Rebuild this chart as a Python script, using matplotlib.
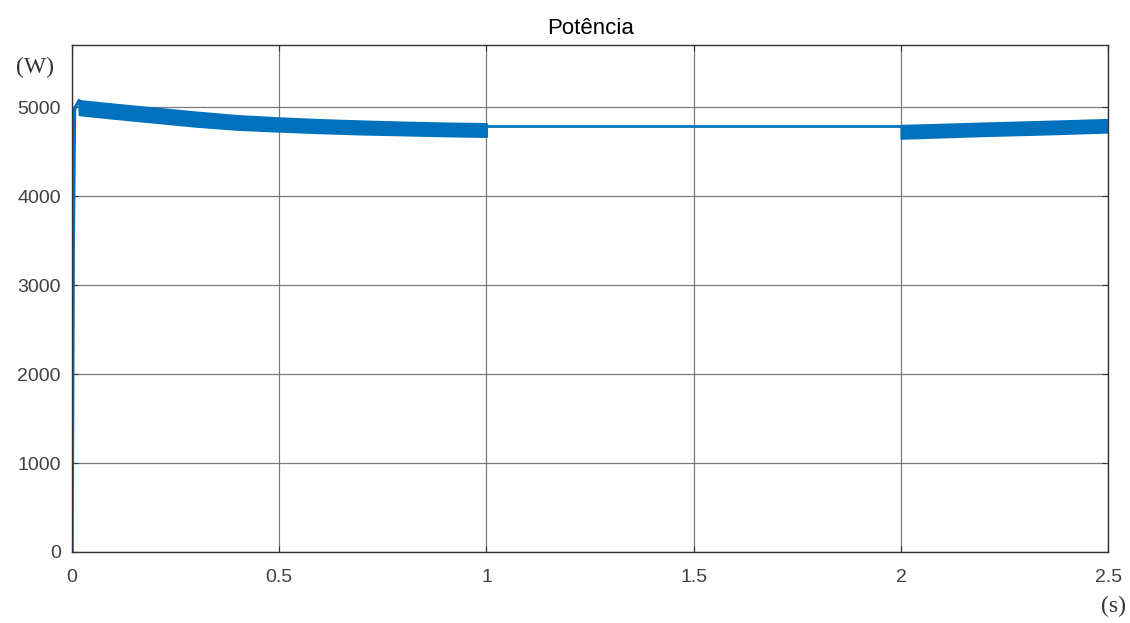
import numpy as np
import matplotlib.pyplot as plt

# --- Dados ---
# partida: subida rápida até a potência máxima
t_partida = [0.0, 0.003, 0.006, 0.017]
p_partida = [0, 3390, 4980, 5070]

# faixa com ondulação (0 a 1 s): envoltória superior e inferior
t_faixa1 = [0.017, 0.1, 0.2, 0.3, 0.4, 0.5, 0.6, 0.7, 0.8, 0.9, 1.0]
p_sup1 = [5075, 5035, 4990, 4945, 4905, 4880, 4860, 4845, 4832, 4822, 4815]
p_inf1 = [4915, 4875, 4830, 4785, 4750, 4730, 4712, 4698, 4688, 4678, 4670]

# trecho constante (1 a 2 s)
t_plano = [1.0, 2.0]
p_plano = [4785, 4785]

# faixa com ondulação (2 a 2.5 s)
t_faixa2 = [2.0, 2.1, 2.2, 2.3, 2.4, 2.5]
p_sup2 = [4795, 4808, 4822, 4835, 4848, 4862]
p_inf2 = [4650, 4665, 4680, 4692, 4705, 4720]

x_ticks = [0, 0.5, 1, 1.5, 2, 2.5]
x_labels = ['0', '0.5', '1', '1.5', '2', '2.5']
y_ticks = [0, 1000, 2000, 3000, 4000, 5000]

AZUL = '#0072BD'
CINZA = '#404040'

fig = plt.figure(figsize=(11.3, 6.23), dpi=100)
ax = fig.add_axes([0.0637, 0.114, 0.917, 0.814])

ax.plot(t_partida, p_partida, color=AZUL, lw=2.5)
ax.fill_between(t_faixa1, p_inf1, p_sup1, color=AZUL, lw=1.5, edgecolor=AZUL)
ax.plot(t_plano, p_plano, color=AZUL, lw=2)
ax.fill_between(t_faixa2, p_inf2, p_sup2, color=AZUL, lw=1.5, edgecolor=AZUL)

ax.set_xlim(0, 2.5)
ax.set_ylim(0, 5700)
ax.set_xticks(x_ticks)
ax.set_xticklabels(x_labels)
ax.set_yticks(y_ticks)
ax.grid(True, color='#7a7a7a', lw=0.9)
ax.set_axisbelow(True)
ax.tick_params(direction='in', top=True, right=True, labelsize=14,
               labelcolor=CINZA, color='#333333', length=4)
ax.tick_params(axis='x', pad=12)
ax.tick_params(axis='y', pad=8)
for s in ax.spines.values():
    s.set_color('#333333')
    s.set_linewidth(1.0)

ax.set_title('Potência', fontsize=16, family='Liberation Sans', pad=8)
for lab in ax.get_xticklabels() + ax.get_yticklabels():
    lab.set_family('Liberation Sans')

fig.text(0.031, 0.891, '(W)', fontsize=17, family='Liberation Serif',
         ha='center', va='center', color='#333333')
fig.text(0.985, 0.026, '(s)', fontsize=17, family='Liberation Serif',
         ha='center', va='center', color='#333333')

fig.savefig('out.png', dpi=100)
